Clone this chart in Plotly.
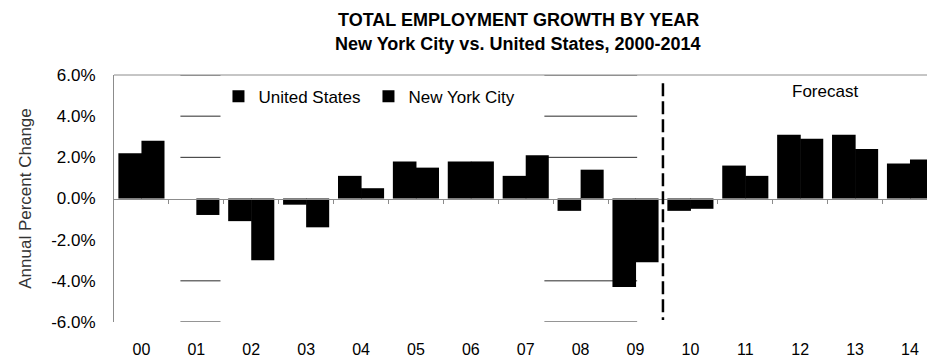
import plotly.graph_objects as go

# Annual percent change in total employment
years = ["00", "01", "02", "03", "04", "05", "06", "07",
         "08", "09", "10", "11", "12", "13", "14"]
us_growth = [2.2, 0.0, -1.1, -0.3, 1.1, 1.8, 1.8, 1.1,
             -0.6, -4.3, -0.6, 1.6, 3.1, 3.1, 1.7]
nyc_growth = [2.8, -0.8, -3.0, -1.4, 0.5, 1.5, 1.8, 2.1,
              1.4, -3.1, -0.5, 1.1, 2.9, 2.4, 1.9]
y_ticks = [-6, -4, -2, 0, 2, 4, 6]

FONT = "Liberation Sans, Arial, sans-serif"
AXIS_GRAY = "#8c8c8c"

x = list(range(len(years)))

# Paired bars sit flush against each other within each year
fig = go.Figure()
fig.add_trace(go.Bar(x=x, y=us_growth, name="United States",
                     width=0.43, offset=-0.42,
                     marker=dict(color="#000000", line=dict(width=0))))
fig.add_trace(go.Bar(x=x, y=nyc_growth, name="New York City",
                     width=0.42, offset=0.0,
                     marker=dict(color="#000000", line=dict(width=0))))

# Horizontal guide segments over the 2001 and 2008-09 periods
shapes = []
for x0, x1 in [(0.71, 1.44), (7.34, 9.03)]:
    for lvl in [6, 4, 2, -4, -6]:
        shapes.append(dict(type="line", xref="x", yref="y", x0=x0, x1=x1,
                           y0=lvl, y1=lvl, layer="below",
                           line=dict(color="#2a2a2a", width=1)))

# Top border of the plot area
shapes.append(dict(type="line", xref="paper", yref="paper", x0=0, x1=1,
                   y0=1, y1=1, line=dict(color=AXIS_GRAY, width=1)))

# Dashed divider between actuals and forecast
shapes.append(dict(type="line", xref="x", yref="y", x0=9.5, x1=9.5,
                   y0=5.6, y1=-5.9,
                   line=dict(color="#000000", width=2.5, dash="13px,5px")))

fig.update_layout(
    width=927, height=359,
    margin=dict(l=114, r=0, t=75, b=37),
    paper_bgcolor="white", plot_bgcolor="white",
    barmode="overlay",
    font=dict(family=FONT, size=16, color="#000000"),
    showlegend=True,
    legend=dict(orientation="h", x=0.1285, y=0.985, xanchor="left", yanchor="top",
                bgcolor="rgba(0,0,0,0)", font=dict(size=17),
                itemwidth=30, entrywidth=105, traceorder="normal"),
    shapes=shapes,
    xaxis=dict(
        range=[-0.5, 14.31], tickmode="array", tickvals=x, ticktext=years,
        showgrid=False, zeroline=False, showline=False,
        ticks="outside", ticklen=13, tickcolor="rgba(0,0,0,0)",
        tickfont=dict(size=16), fixedrange=True,
    ),
    xaxis2=dict(
        overlaying="x", anchor="free", position=0.5, side="bottom",
        range=[-0.5, 14.31], tickmode="array",
        tickvals=[i + 0.5 for i in x[:-1]], showticklabels=False,
        showline=True, linecolor=AXIS_GRAY, linewidth=1,
        ticks="outside", ticklen=4, tickcolor=AXIS_GRAY, tickwidth=1,
        showgrid=False, zeroline=False,
    ),
    yaxis=dict(
        range=[-6, 6], tickmode="array", tickvals=y_ticks,
        ticktext=[f"{v:.1f}%" for v in y_ticks],
        showgrid=False, zeroline=False,
        showline=True, linecolor=AXIS_GRAY, linewidth=1,
        ticks="outside", ticklen=14, tickcolor="rgba(0,0,0,0)",
        tickfont=dict(size=17),
        title=dict(text="Annual Percent Change", standoff=15,
                   font=dict(size=17, color="#333333")),
    ),
    annotations=[
        dict(text="<b>TOTAL EMPLOYMENT GROWTH BY YEAR</b>", xref="paper", yref="paper",
             x=0.497, y=1, xanchor="center", yanchor="middle",
             yshift=75 - 19.5, showarrow=False, font=dict(size=18)),
        dict(text="<b>New York City vs. United States, 2000-2014</b>", xref="paper",
             yref="paper", x=0.497, y=1, xanchor="center", yanchor="middle",
             yshift=75 - 43.5, showarrow=False, font=dict(size=18)),
        dict(text="Forecast", xref="x", yref="paper", x=12.46, y=1,
             xanchor="center", yanchor="middle", yshift=75 - 91, showarrow=False,
             font=dict(size=17)),
    ],
)

# A hidden trace anchors the free zero-line axis so it gets drawn
fig.add_trace(go.Scatter(x=[0], y=[0], xaxis="x2", mode="markers",
                         marker=dict(opacity=0), showlegend=False, hoverinfo="skip"))

fig.write_html("out.html")
